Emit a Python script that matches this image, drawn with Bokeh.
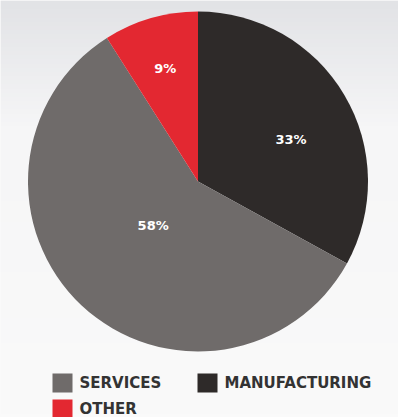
import numpy as np
from bokeh.plotting import figure
from bokeh.models import Range1d
from bokeh.core.properties import value
from bokeh.embed import file_html
from bokeh.resources import INLINE

# ---- data ----
categories = ["MANUFACTURING", "SERVICES", "OTHER"]
shares = [33, 58, 9]
labels = ["33%", "58%", "9%"]
colors = ["#2e2a29", "#6f6b6a", "#e32831"]
legend_order = ["SERVICES", "MANUFACTURING", "OTHER"]

W, H = 398, 417
p = figure(width=W, height=H, output_backend="svg", toolbar_location=None,
           x_range=Range1d(0, W), y_range=Range1d(0, H), min_border=0)
p.axis.visible = False
p.grid.visible = False
p.outline_line_color = None
p.background_fill_color = "#f8f8f8"
p.border_fill_color = "#f8f8f8"

# background gradient (top greyish, fading to near white)
ys = np.linspace(0, 1, 100)
top = np.array([226, 227, 230]); mid = np.array([246, 246, 247]); bot = np.array([250, 250, 250])
grad = np.zeros((100, 1), dtype=np.uint32)
view = grad.view(dtype=np.uint8).reshape((100, 1, 4))
for i, t in enumerate(ys):  # t=0 bottom row, t=1 top row
    s = 1 - t  # distance from top
    if s < 0.3:
        c = top + (mid - top) * (s / 0.3)
    else:
        c = mid + (bot - mid) * ((s - 0.3) / 0.7)
    view[i, 0, :3] = c.astype(np.uint8)
    view[i, 0, 3] = 255
p.image_rgba(image=[grad], x=0, y=0, dw=W, dh=H)

# ---- pie ----
cx, cy, R = 197.5, H - 181, 170
fr = np.array(shares) / sum(shares)
cum = np.concatenate([[0], np.cumsum(fr)])
start = np.pi / 2 - 2 * np.pi * cum[:-1]
end = np.pi / 2 - 2 * np.pi * cum[1:]
p.wedge(x=cx, y=cy, radius=R, start_angle=start, end_angle=end, direction="clock",
        fill_color=colors, line_color=None)

# labels
mid_ang = (start + end) / 2
lab_r = np.array([0.60, 0.37, 0.69]) * R
lab_da = np.array([-0.11, -0.04, 0.0])
lx = cx + lab_r * np.cos(mid_ang + lab_da)
ly = cy + lab_r * np.sin(mid_ang + lab_da)
p.text(x=lx, y=ly, text=labels, text_color="white", text_font=value("DejaVu Sans"),
       text_font_style="bold", text_font_size="13px", text_align="center",
       text_baseline="middle")

# ---- legend ----
lg_x = [52, 197, 52]
lg_y = [382.5, 382.5, 408.5]
for name, x0, y0 in zip(legend_order, lg_x, lg_y):
    c = colors[categories.index(name)]
    p.rect(x=x0 + 10, y=H - y0, width=20, height=19, fill_color=c, line_color=None)
    p.text(x=x0 + 27, y=H - y0, text=[name], text_color="#333333",
           text_font=value("DejaVu Sans"), text_font_style="bold",
           text_font_size="15px", text_baseline="middle")

open("out.html", "w").write(file_html(p, INLINE))
